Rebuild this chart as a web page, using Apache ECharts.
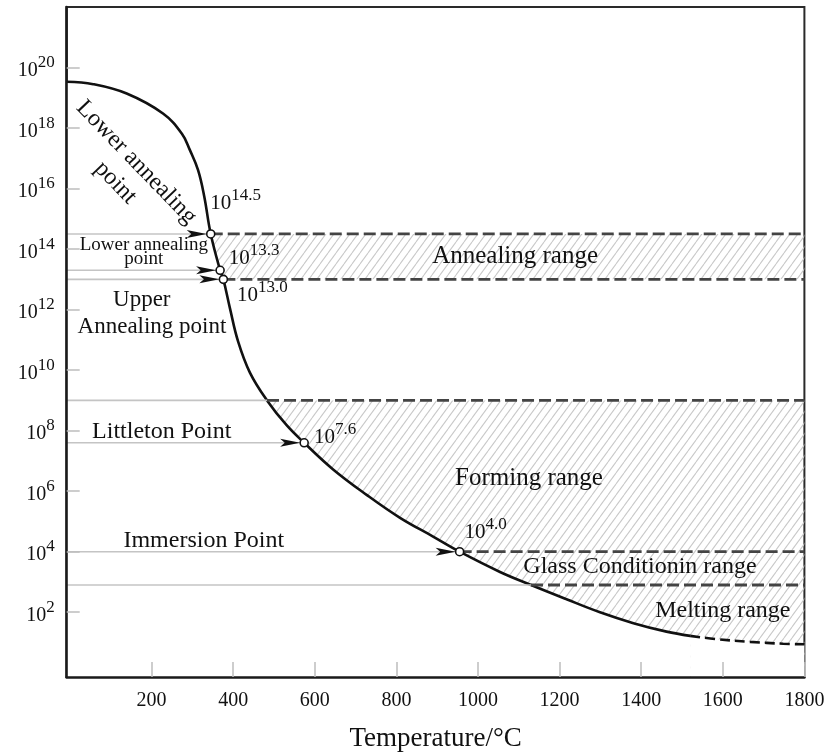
<!DOCTYPE html>
<html><head><meta charset="utf-8">
<script src="https://cdn.jsdelivr.net/npm/echarts@6/dist/echarts.min.js"></script>
<style>html,body{margin:0;padding:0;background:#fff}#c{width:828px;height:753px}</style>
</head><body><div id="c"></div>
<script>
// ---------- data (temperature in °C, viscosity as log10 exponent) ----------
const curveTemp    = [-8, 57, 139, 228, 274, 294, 314, 329, 345, 368, 376, 392, 412, 441, 483, 531, 574, 645, 727, 809, 890, 955, 1054, 1130, 1217, 1299, 1381, 1462, 1520, 1585, 1667, 1748, 1800];
const curveLogVisc = [19.53, 19.45, 19.14, 18.48, 17.82, 17.27, 16.61, 15.75, 14.5, 13.3, 13.0, 12.05, 10.95, 9.92, 9.0, 8.18, 7.6, 6.72, 5.88, 5.12, 4.5, 4.0, 3.33, 2.9, 2.43, 2.0, 1.64, 1.36, 1.22, 1.11, 1.02, 0.96, 0.94];
const dashedFromTemp = 1520;

const pointTemp    = [345, 368, 376, 574, 955];     // marked viscosity points
const pointLogVisc = [14.5, 13.3, 13.0, 7.6, 4.0];

const guideLogVisc = [14.5, 13.3, 13.0, 9.0, 7.6, 4.0, 2.9];   // thin grey guide lines (left edge -> curve)
const guideTemp    = [345, 368, 376, 483, 574, 955, 1130];

const rangeLogVisc = [14.5, 13.0, 9.0, 4.0, 2.9];   // dashed range borders (curve -> right edge)
const rangeTemp    = [345, 376, 483, 955, 1130];

const annealBand = [13.0, 14.5];
const formingTop = 9.0;

const xTicks = [200, 400, 600, 800, 1000, 1200, 1400, 1600, 1800];
const yTicks = [2, 4, 6, 8, 10, 12, 14, 16, 18, 20];
const xMin = -8, xMax = 1800, yMin = -0.14, yMax = 22;

const annotationText = ['Lower annealing\npoint', 'Lower annealing\npoint', 'Upper', 'Annealing point', 'Annealing range',
  'Littleton Point', 'Forming range', 'Immersion Point', 'Glass Conditionin range', 'Melting range'];
const annotationAt = [[137, 16.53], [181, 13.90], [176, 12.32], [201, 11.42], [1091, 13.77],
  [225, 7.95], [1125, 6.43], [328, 4.35], [1397, 3.50], [1600, 2.04]];

// ---------- styles / layout ----------
const FONT = "'Liberation Serif','Times New Roman',serif";
const TXT = '#111';
const annotationStyle = [
  {fontSize: 24, rotate: -46, lineHeight: 29},
  {fontSize: 19, lineHeight: 14},
  {fontSize: 23}, {fontSize: 23}, {fontSize: 25}, {fontSize: 24},
  {fontSize: 25}, {fontSize: 24}, {fontSize: 24}, {fontSize: 24}
];
const pointLabelOffset = [[25, -33], [34, -15], [39, 13], [31, -8], [26, -22]];

function hatchPattern() {
  const W = 8, H = 11;
  const c = document.createElement('canvas');
  c.width = W; c.height = H;
  const g = c.getContext('2d');
  g.strokeStyle = '#c8c8c8';
  g.lineWidth = 1.05;
  for (const dx of [-W, 0, W]) {
    g.beginPath(); g.moveTo(dx, H); g.lineTo(dx + W, 0); g.stroke();
  }
  return c;
}
const hatch = {image: hatchPattern(), repeat: 'repeat'};

const richAxis = {
  b: {fontSize: 20, fontFamily: FONT, color: TXT, verticalAlign: 'bottom'},
  s: {fontSize: 17, fontFamily: FONT, color: TXT, verticalAlign: 'bottom', padding: [0, 0, 10, 0]}
};
const richPoint = {
  b: {fontSize: 21, fontFamily: FONT, color: TXT, verticalAlign: 'bottom'},
  s: {fontSize: 17, fontFamily: FONT, color: TXT, verticalAlign: 'bottom', padding: [0, 0, 10, 0]}
};

const curvePts = curveTemp.map((t, i) => [t, curveLogVisc[i]]);
const solidPts = curvePts.filter(p => p[0] <= dashedFromTemp);
const dashPts = curvePts.filter(p => p[0] >= dashedFromTemp);

const series = [];
// main curve, solid part (white area masks hatch below the curve)
series.push({
  type: 'line', data: solidPts, smooth: 0.4, symbol: 'none', z: 2, silent: true,
  lineStyle: {color: '#111', width: 2.6},
  areaStyle: {color: '#ffffff', opacity: 1, origin: 'start'},
  markArea: {
    silent: true,
    itemStyle: {color: hatch, borderWidth: 0},
    data: [
      [{xAxis: pointTemp[0], yAxis: annealBand[0]}, {xAxis: xMax, yAxis: annealBand[1]}],
      [{xAxis: guideTemp[3], yAxis: yMin}, {xAxis: xMax, yAxis: formingTop}]
    ]
  }
});
series.push({
  type: 'line', data: dashPts, smooth: 0.4, symbol: 'none', z: 2, silent: true,
  lineStyle: {color: '#111', width: 2.6, type: [10, 5]},
  areaStyle: {color: '#ffffff', opacity: 1, origin: 'start'}
});
// grey guide lines
guideLogVisc.forEach((v, i) => {
  series.push({
    type: 'line', data: [[xMin, v], [guideTemp[i], v]], symbol: 'none', z: 3, silent: true,
    lineStyle: {color: '#c4c4c4', width: 1.6}
  });
});
// dashed range borders
rangeLogVisc.forEach((v, i) => {
  series.push({
    type: 'line', data: [[rangeTemp[i], v], [xMax, v]], symbol: 'none', z: 3, silent: true,
    lineStyle: {color: '#444', width: 2.8, type: [12, 5]}
  });
});
// annotations
series.push({
  type: 'scatter', symbolSize: 0, z: 4, silent: true, itemStyle: {opacity: 1},
  data: annotationText.map((t, i) => ({
    value: annotationAt[i], name: t,
    label: Object.assign({show: true, position: 'inside', formatter: '{b}', color: TXT, fontFamily: FONT, align: 'center', verticalAlign: 'middle'}, annotationStyle[i])
  }))
});
// arrowheads
series.push({
  type: 'scatter', z: 5, silent: true,
  symbol: 'path://M0,0 L22,4.5 L0,9 L5,4.5 Z', symbolSize: [20, 8], symbolOffset: [-14, 0],
  itemStyle: {color: '#111', opacity: 1},
  data: pointTemp.map((t, i) => [t, pointLogVisc[i]])
});
// marked points with labels
series.push({
  type: 'scatter', z: 6, silent: true, symbol: 'circle', symbolSize: 8,
  itemStyle: {color: '#fff', borderColor: '#111', borderWidth: 1.6, opacity: 1},
  data: pointTemp.map((t, i) => ({
    value: [t, pointLogVisc[i]],
    label: {show: true, position: 'inside', offset: pointLabelOffset[i],
      formatter: p => '{b|10}{s|' + p.value[1].toFixed(1) + '}', rich: richPoint}
  }))
});

const chart = echarts.init(document.getElementById('c'), null, {renderer: 'canvas'});
chart.setOption({
  animation: false,
  backgroundColor: '#fff',
  grid: {show: true, left: 66.7, right: 23.6, top: 7, bottom: 76, borderColor: '#2a2a2a', borderWidth: 2,
    backgroundColor: 'transparent', containLabel: false, outerBoundsMode: 'none'},
  xAxis: {
    type: 'value', min: xMin, max: xMax, z: 10,
    name: 'Temperature/°C', nameLocation: 'middle', nameGap: 48,
    nameTextStyle: {fontSize: 27, fontFamily: FONT, color: TXT},
    axisLine: {show: true, onZero: false, lineStyle: {color: '#1a1a1a', width: 2.6}},
    axisTick: {show: true, inside: true, length: 15, customValues: xTicks, lineStyle: {color: '#bdbdbd', width: 1.5}},
    axisLabel: {customValues: xTicks, margin: 14, fontSize: 20, fontFamily: FONT, color: TXT, formatter: v => String(v)},
    splitLine: {show: false}
  },
  yAxis: {
    type: 'value', min: yMin, max: yMax, z: 10,
    axisLine: {show: true, onZero: false, lineStyle: {color: '#1a1a1a', width: 2.6}},
    axisTick: {show: true, inside: true, length: 13, customValues: yTicks, lineStyle: {color: '#bdbdbd', width: 1.5}},
    axisLabel: {customValues: yTicks, margin: 12, formatter: v => '{b|10}{s|' + v + '}', rich: richAxis},
    splitLine: {show: false}
  },
  series: series
});
</script></body></html>
